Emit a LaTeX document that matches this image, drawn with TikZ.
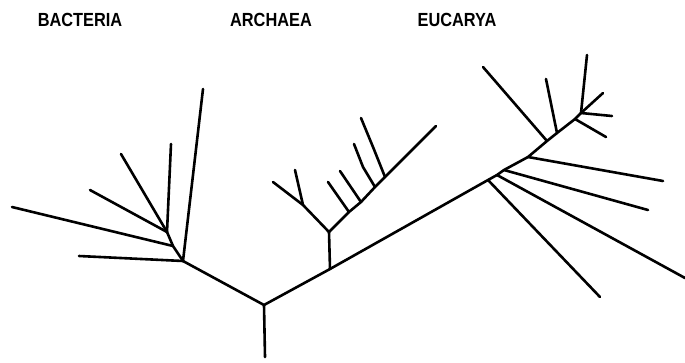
\documentclass[tikz,border=0pt]{standalone}
\usepackage{fontspec}
\setmainfont{Liberation Sans}
\begin{document}
\begin{tikzpicture}[x=1pt,y=-1pt,
  branch/.style={line width=2.6pt,line cap=round,line join=round},
  domainlabel/.style={font=\fontsize{19}{19}\selectfont\bfseries,inner sep=0pt}]
\useasboundingbox (0,0) rectangle (685,362);

% domain names
\node[domainlabel] (bac) at (80,20) {\scalebox{0.86}[1]{BACTERIA}};
\node[domainlabel] (arc) at (271,20) {\scalebox{0.86}[1]{ARCHAEA}};
\node[domainlabel] (euc) at (457,20) {\scalebox{0.86}[1]{EUCARYA}};

% root and main stems
\coordinate (base) at (265,357);
\coordinate (root) at (264,305);
\coordinate (B) at (183,261);
\coordinate (A) at (330,269);
\coordinate (E1) at (488,180);
\coordinate (E2) at (497,175);
\coordinate (E3) at (504,170);
\coordinate (E4) at (528,157);
\coordinate (E5) at (547,141);
\coordinate (E6) at (557,133);
\coordinate (E7) at (575,119);
\coordinate (E8) at (581,113);

\draw[branch] (base) -- (root) -- (B);
\draw[branch] (root) -- (A) -- (E1) -- (E2) -- (E3) -- (E4) -- (E5) -- (E6) -- (E7) -- (E8);

% bacteria
\coordinate (B1) at (173,246);
\coordinate (B2) at (167,232);
\coordinate (b1) at (79,256);
\coordinate (b2) at (12,207);
\coordinate (b3) at (90,190);
\coordinate (b4) at (121,154);
\coordinate (b5) at (171,144);
\coordinate (b6) at (203,89);
\draw[branch] (B) -- (b1);
\draw[branch] (B) -- (B1) -- (B2);
\draw[branch] (B1) -- (b2);
\draw[branch] (B2) -- (b3);
\draw[branch] (B2) -- (b4);
\draw[branch] (B2) -- (b5);
\draw[branch] (B) -- (b6);

% archaea
\coordinate (A0) at (329,232);
\coordinate (A1) at (303,205);
\coordinate (A2) at (349,212);
\coordinate (A3) at (361,202);
\coordinate (A4) at (375,187);
\coordinate (A5) at (385,177);
\coordinate (a0) at (273,182);
\coordinate (a1) at (295,170);
\coordinate (a2) at (328,182);
\coordinate (a3) at (340,171);
\coordinate (a4) at (354,144);
\coordinate (a5) at (361,118);
\coordinate (a6) at (436,126);
\draw[branch] (A) -- (A0);
\draw[branch] (A0) -- (A1) -- (a0);
\draw[branch] (A1) -- (a1);
\draw[branch] (A0) -- (A2) -- (A3) -- (A4) -- (A5) -- (a6);
\draw[branch] (A2) -- (a2);
\draw[branch] (A3) -- (a3);
\draw[branch] (A4) -- ++(-12,-20) -- (a4);
\draw[branch] (A5) -- ++(-12,-30) -- (a5);

% eucarya
\coordinate (e1) at (600,297);
\coordinate (e2) at (685,278);
\coordinate (e3) at (648,210);
\coordinate (e4) at (663,181);
\coordinate (e5) at (483,67);
\coordinate (e6) at (546,79);
\coordinate (e7) at (606,137);
\coordinate (e8) at (612,116);
\coordinate (e9) at (603,93);
\coordinate (e10) at (587,55);
\draw[branch] (E1) -- (e1);
\draw[branch] (E2) -- (e2);
\draw[branch] (E3) -- (e3);
\draw[branch] (E4) -- (e4);
\draw[branch] (E5) -- (e5);
\draw[branch] (E6) -- (e6);
\draw[branch] (E7) -- (e7);
\draw[branch] (E8) -- (e8);
\draw[branch] (E8) -- (e9);
\draw[branch] (E8) -- (e10);
\end{tikzpicture}
\end{document}
